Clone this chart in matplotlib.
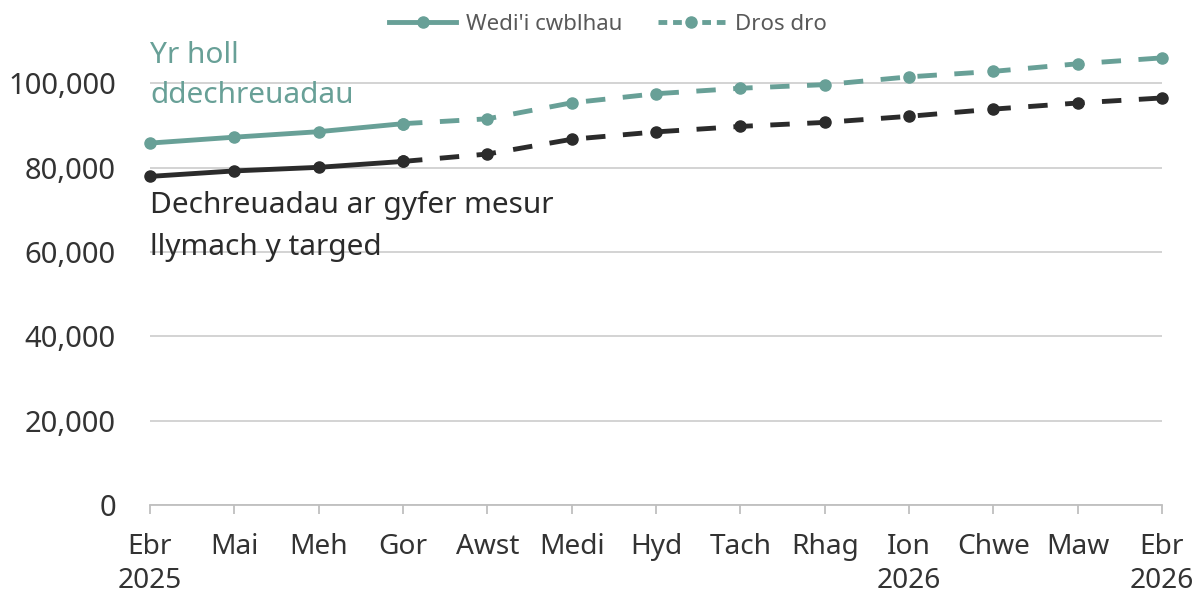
import matplotlib
matplotlib.use("Agg")
import matplotlib.pyplot as plt
import numpy as np
from matplotlib.ticker import FuncFormatter
from matplotlib.lines import Line2D

plt.rcParams['font.family'] = ['Noto Sans', 'DejaVu Sans']

months = ["Ebr\n2025", "Mai", "Meh", "Gor", "Awst", "Medi", "Hyd", "Tach",
          "Rhag", "Ion\n2026", "Chwe", "Maw", "Ebr\n2026"]
all_starts = [85800, 87200, 88500, 90400, 91550, 95350, 97500, 98800,
              99650, 101500, 102800, 104600, 106000]
strict_starts = [77900, 79200, 80050, 81450, 83200, 86700, 88450, 89750,
                 90700, 92150, 93850, 95300, 96500]
n_complete = 4  # Ebr..Gor are complete; from Gor onwards provisional
legend_labels = ["Wedi'i cwblhau", "Dros dro"]
label_all = ["Yr holl", "ddechreuadau"]
label_strict = ["Dechreuadau ar gyfer mesur", "llymach y targed"]

green = '#68a097'
black = '#2b2b2b'
txt = '#333333'

fig = plt.figure(figsize=(12.01, 5.95), dpi=100)
ax = fig.add_axes([150/1201, 1-505/595, (1162-150)/1201, (505-41)/595])

x = np.arange(len(months))
lw = 3.5
ms = 8
dash = (0, (4.0, 3.6))
for vals, col in [(all_starts, green), (strict_starts, black)]:
    ax.plot(x[:n_complete], vals[:n_complete], color=col, lw=lw, marker='o',
            ms=ms, solid_capstyle='round', zorder=3, clip_on=False)
    ax.plot(x[n_complete-1:], vals[n_complete-1:], color=col, lw=lw, marker='o',
            ms=ms, linestyle=dash, zorder=3, clip_on=False)

h1 = Line2D([], [], color=green, lw=lw, marker='o', ms=ms)
h2 = Line2D([], [], color=green, lw=lw, marker='o', ms=ms, linestyle=(0, (1.8, 1.2)))
fig.legend([h1, h2], legend_labels, loc='center',
           bbox_to_anchor=(608/1201, 1-24/595), ncol=2, frameon=False, fontsize=16,
           handlelength=3.0, columnspacing=1.6, handletextpad=0.45,
           labelcolor='#595959', borderaxespad=0)

ax.set_ylim(0, 110000)
ax.set_xlim(0, len(months)-1)
ax.set_yticks(np.arange(0, 100001, 20000))
ax.yaxis.set_major_formatter(FuncFormatter(lambda v, p: f"{int(v):,}"))
ax.set_xticks(x)
ax.set_xticklabels(months)
ax.grid(axis='y', color='#d0d0d0', lw=1.3)
ax.set_axisbelow(True)
for s in ['top', 'right', 'left']:
    ax.spines[s].set_visible(False)
ax.spines['bottom'].set_color('#bfbfbf')
ax.spines['bottom'].set_linewidth(1.3)
ax.tick_params(axis='y', length=0, labelsize=21, labelcolor=txt, pad=24.5)
ax.tick_params(axis='x', length=6.5, color='#bfbfbf', width=1.3, labelsize=20.2,
               labelcolor=txt, pad=14)
for lbl in ax.get_xticklabels():
    lbl.set_linespacing(1.26)

for yv, s in zip([104860, 95370], label_all):
    ax.text(0, yv, s, color=green, fontsize=21.5, va='baseline', ha='left')
for yv, s in zip([69280, 59300], label_strict):
    ax.text(0, yv, s, color=black, fontsize=21.5, va='baseline', ha='left')

fig.savefig("out.png", dpi=100)
